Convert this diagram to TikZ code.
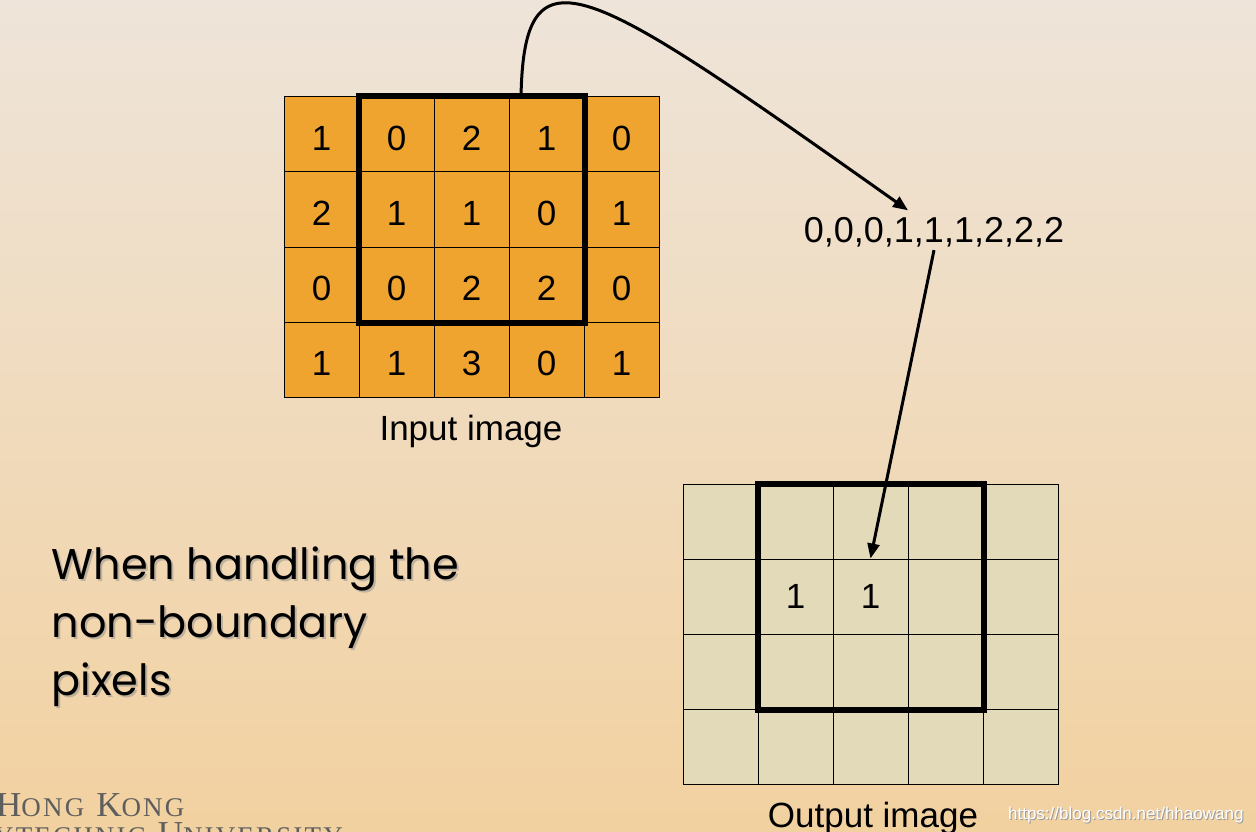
\documentclass[tikz,border=0pt]{standalone}
\usepackage{fontspec}
\setmainfont{Liberation Sans}
\newfontfamily\tieude{Poppins}
\newfontfamily\logochu[LetterSpace=8]{Liberation Serif}
\usetikzlibrary{arrows.meta,calc}

\definecolor{cam}{HTML}{F0A430}
\definecolor{be}{HTML}{E3DABA}
\definecolor{nentren}{HTML}{EEE4D9}
\definecolor{nenduoi}{HTML}{F2D1A0}
\definecolor{xamchu}{HTML}{5E5E5E}

% chữ hoa nhỏ tự làm
\newcommand{\hoa}[1]{{\fontsize{35}{36}\selectfont #1}}
\newcommand{\nho}[1]{{\fontsize{27}{36}\selectfont #1}}

\begin{document}
\begin{tikzpicture}[x=1pt,y=-1pt,>={Triangle[length=15pt,width=12pt]},font=\fontsize{35}{40}\selectfont]
	\tikzset{onhap/.style={draw,line width=1pt,fill=cam,minimum size=75pt,inner sep=0pt,text height=31pt,text depth=0pt},
		oxuat/.style={draw,line width=1pt,fill=be,minimum size=75pt,inner sep=0pt},
		khung/.style={line width=6pt},
		muiten/.style={->,line width=3pt}}
	
	% Nền và khung hình
	\useasboundingbox (0,0) rectangle (1256,832);
	\clip (0,0) rectangle (1256,832);
	\shade[top color=nentren,bottom color=nenduoi] (0,0) rectangle (1256,832);
	
	% Ảnh đầu vào
	\foreach \hang/\giatri in {0/{1,0,2,1,0},1/{2,1,1,0,1},2/{0,0,2,2,0},3/{1,1,3,0,1}}
	\foreach \so [count=\cot from 0] in \giatri
	\node[onhap] (n-\hang-\cot) at ({321.5+75*\cot},{134.5+75*\hang}) {\so};
	\draw[khung] (n-0-1.north west) rectangle (n-2-3.south east);
	\node[anchor=base] (tennhap) at (471,440) {Input image};
	
	% Ảnh đầu ra
	\foreach \hang in {0,...,3}
	\foreach \cot in {0,...,4}
	\node[oxuat] (o-\hang-\cot) at ({720.5+75*\cot},{521.5+75*\hang}) {};
	\node (kq1) at (o-1-1) {1};
	\node (kq2) at (o-1-2) {1};
	\draw[khung] (o-0-1.north west) rectangle (o-2-3.south east);
	\node[anchor=base] (tenxuat) at (873,827) {Output image};
	
	% Dãy giá trị đã sắp xếp
	\node[anchor=base,font=\fontsize{36}{40}\selectfont] (day) at (934,242) {0,0,0,1,1,1,2,2,2};
	
	% Mũi tên
	\coordinate (dau) at (521,97);
	\draw[muiten] (dau) .. controls (524,-60) and (585,-18) .. ($(day.north)+(-26,-3)$);
	\draw[muiten] (day.south) -- (kq2.north |- o-1-2.north);
	
	% Tiêu đề bên trái (có bóng)
	\node[anchor=base west,align=left,text=black!45,opacity=0.5,font=\tieude\fontsize{43}{58}\selectfont] (bong) at (50,697) {When handling the\\non-boundary\\pixels};
	\node[anchor=base west,align=left,font=\tieude\fontsize{43}{58}\selectfont] (chu) at (48,695) {When handling the\\non-boundary\\pixels};
	
	% Logo và địa chỉ
	\node[anchor=base west,text=xamchu,font=\logochu,inner sep=0pt] (logo1) at (-4,816) {\hoa{H}\nho{ONG}\hspace{12pt}\hoa{K}\nho{ONG}};
	\node[anchor=base east,text=xamchu,font=\logochu,inner sep=0pt] (logo2) at (343,845) {\hoa{P}\nho{OLYTECHNIC}\hspace{12pt}\hoa{U}\nho{NIVERSITY}};
	\node[anchor=base east,text=black!40,font=\fontsize{17}{20}\selectfont] (webbong) at (1248,820) {https://blog.csdn.net/hhaowang};
	\node[anchor=base east,text=white,font=\fontsize{17}{20}\selectfont] (web) at (1247,819) {https://blog.csdn.net/hhaowang};
\end{tikzpicture}
\end{document}
